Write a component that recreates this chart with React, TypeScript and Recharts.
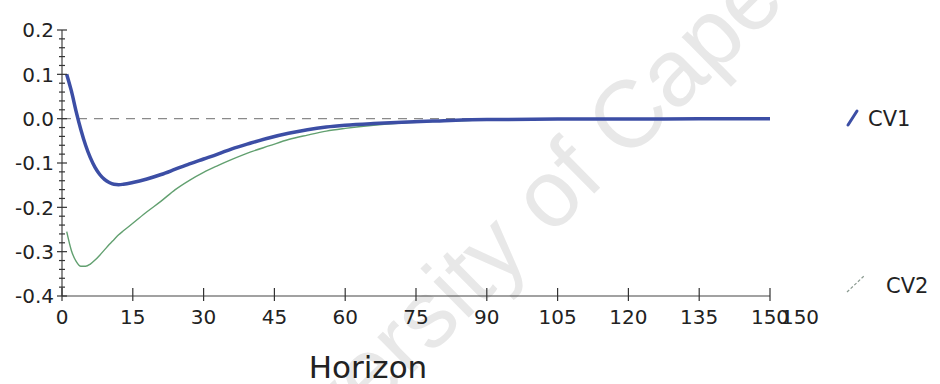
import React from 'react';
import { LineChart, Line, XAxis, YAxis, ReferenceLine, Legend } from 'recharts';

// impulse responses over the forecast horizon
const horizon = [1, 2, 3, 4, 5, 6, 7, 8, 9, 10, 11, 12, 13, 15, 18, 21, 24, 27, 30, 33, 36, 40, 44, 48, 52, 56, 60, 66, 72, 80, 90, 105, 120, 135, 150];
const cv1 = [0.1, 0.062, 0.016, -0.025, -0.06, -0.088, -0.11, -0.126, -0.137, -0.144, -0.148, -0.149, -0.148, -0.144, -0.136, -0.126, -0.114, -0.102, -0.091, -0.08, -0.068, -0.055, -0.043, -0.033, -0.025, -0.019, -0.015, -0.011, -0.008, -0.005, -0.002, -0.001, -0.001, 0, 0];
const cv2 = [-0.255, -0.298, -0.322, -0.333, -0.333, -0.328, -0.319, -0.308, -0.296, -0.284, -0.273, -0.262, -0.253, -0.236, -0.21, -0.186, -0.16, -0.139, -0.121, -0.106, -0.092, -0.075, -0.061, -0.047, -0.037, -0.028, -0.022, -0.015, -0.01, -0.006, -0.003, -0.001, -0.001, 0, 0];

const xTicks = [0, 15, 30, 45, 60, 75, 90, 105, 120, 135, 150];
const xEndLabel = '150';
// minor ticks every 0.02, labels on every 0.1
const yTicks = Array.from({ length: 31 }, (_, i) => Number((-0.4 + i * 0.02).toFixed(2)));

const seriesNames = ['CV1', 'CV2'];
const watermark = 'University of Cape Town';

const BLUE = '#3c4ea5';
const GREEN = '#62a070';
const FONT = '"DejaVu Sans", sans-serif';

const chartData = horizon.map((h, i) => ({ h, cv1: cv1[i], cv2: cv2[i] }));

const isMajor = (v: number) => Math.abs(v * 10 - Math.round(v * 10)) < 1e-6;

const YTick = (props: any) => {
  const { x, y, payload } = props;
  const v = payload.value as number;
  const major = isMajor(v);
  return (
    <g>
      <line x1={x - (major ? 5 : 3)} x2={x + (major ? 5 : 3)} y1={y} y2={y} stroke="#333" strokeWidth={1.2} />
      {major && (
        <text x={x - 8} y={y} dy="0.36em" textAnchor="end" fontSize={20} fontFamily={FONT} fill="#222">
          {v.toFixed(1)}
        </text>
      )}
    </g>
  );
};

const XTick = (props: any) => {
  const { x, y, payload } = props;
  return (
    <g>
      <line x1={x} x2={x} y1={y - 8} y2={y + 5} stroke="#333" strokeWidth={1.2} />
      <text x={x} y={y + 28} textAnchor="middle" fontSize={20} fontFamily={FONT} fill="#222">
        {payload.value}
      </text>
      {payload.value === 150 && (
        <text x={x + 30} y={y + 28} textAnchor="middle" fontSize={20} fontFamily={FONT} fill="#222">
          {xEndLabel}
        </text>
      )}
    </g>
  );
};

const SeriesLegend = () => (
  <svg width={100} height={200}>
    <line x1={8} y1={25} x2={17} y2={11} stroke={BLUE} strokeWidth={3} strokeLinecap="round" />
    <text x={28} y={18} dy="0.36em" fontSize={21} fontFamily={FONT} fill="#222">
      {seriesNames[0]}
    </text>
    <line x1={7} y1={192} x2={24} y2={176} stroke="#8a9a90" strokeWidth={1.2} strokeDasharray="3 2" />
    <text x={46} y={185} dy="0.36em" fontSize={21} fontFamily={FONT} fill="#222">
      {seriesNames[1]}
    </text>
  </svg>
);

export default function App() {
  return (
    <div style={{ position: 'absolute', left: 0, top: 0, width: 940, height: 384, background: '#fff', overflow: 'hidden' }}>
      <svg width={940} height={384} style={{ position: 'absolute', left: 0, top: 0 }}>
        <text
          x={235}
          y={548}
          transform="rotate(-44.6 235 548)"
          fontSize={95}
          fontFamily='"Liberation Sans", sans-serif'
          fill="#e8e8e8"
        >
          {watermark}
        </text>
      </svg>
      <div style={{ position: 'absolute', left: 0, top: 0 }}>
        <LineChart width={940} height={384} data={chartData} margin={{ top: 30, right: 170, left: 0, bottom: 0 }}>
          <XAxis
            dataKey="h"
            type="number"
            domain={[0, 150]}
            ticks={xTicks}
            interval={0}
            height={88}
            tickSize={0}
            tickMargin={0}
            tickLine={false}
            axisLine={{ stroke: '#444', strokeWidth: 1.2 }}
            tick={XTick}
            label={{
              content: () => (
                <text x={368} y={378} textAnchor="middle" fontSize={31} fontFamily={FONT} fill="#222">
                  Horizon
                </text>
              ),
            }}
          />
          <YAxis
            type="number"
            domain={[-0.4, 0.2]}
            ticks={yTicks}
            interval={0}
            width={62}
            tickSize={0}
            tickMargin={0}
            tickLine={false}
            axisLine={{ stroke: '#444', strokeWidth: 1.2 }}
            tick={YTick}
          />
          <ReferenceLine y={0} stroke="#8a8a8a" strokeWidth={1.2} strokeDasharray="9 7" />
          <Line
            type="monotone"
            dataKey="cv2"
            name={seriesNames[1]}
            stroke={GREEN}
            strokeWidth={1.4}
            dot={false}
            isAnimationActive={false}
          />
          <Line
            type="monotone"
            dataKey="cv1"
            name={seriesNames[0]}
            stroke={BLUE}
            strokeWidth={3.5}
            dot={false}
            isAnimationActive={false}
          />
          <Legend
            layout="horizontal"
            align="center"
            verticalAlign="middle"
            wrapperStyle={{ left: 840, top: 100, width: 100, height: 200 }}
            content={() => <SeriesLegend />}
          />
        </LineChart>
      </div>
    </div>
  );
}
